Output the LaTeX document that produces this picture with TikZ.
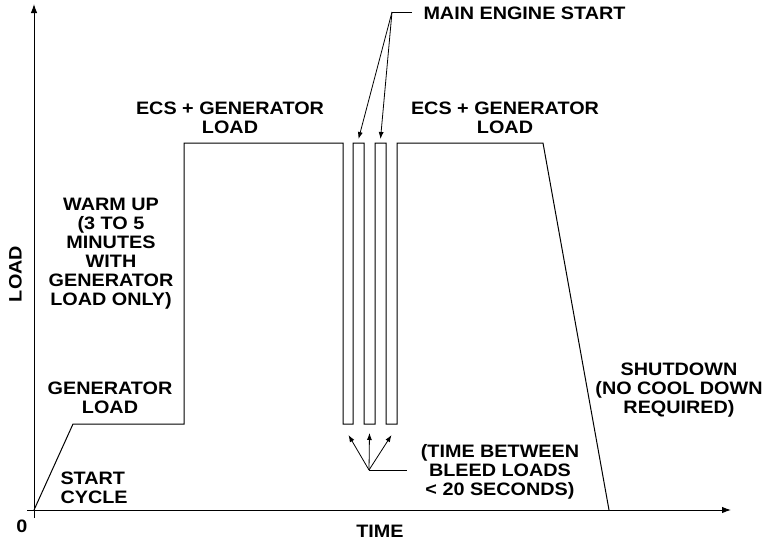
\documentclass[tikz,border=0pt]{standalone}
\usepackage{fontspec}
\setmainfont{Liberation Sans}[FakeStretch=1.1]
\usetikzlibrary{arrows.meta}

\begin{document}
\begin{tikzpicture}[x=1pt,y=-1pt,line width=1pt,
  lbl/.style={font=\bfseries\fontsize{18}{19}\selectfont,align=center,inner sep=0pt,anchor=base},
  lead/.style={line width=0.8pt,-{Latex[length=7pt,width=5pt]}},
  axis/.style={line width=1pt,-{Latex[length=9pt,width=6.5pt]}}]
\useasboundingbox (0,0) rectangle (765,542);
% axes
\coordinate (ybot) at (34,518);
\coordinate (ytop) at (34,4);
\coordinate (xleft) at (27,510);
\coordinate (xright) at (731,510);
\draw[axis] (ybot) -- (ytop);
\draw[axis] (xleft) -- (xright);
\node[lbl] (zero) at (22,532) {0};
\node[lbl] (time) at (380,537) {TIME};
\node[lbl,anchor=center,rotate=90] (load) at (15.5,274) {LOAD};
% load profile
\draw (34,510) -- (73,424) -- (184,424) -- (184,143) -- (343,143)
  -- (343,424) -- (353,424) -- (353,143) -- (364,143) -- (364,424)
  -- (375,424) -- (375,143) -- (386,143) -- (386,424) -- (397,424)
  -- (397,143) -- (543,143) -- (609,510);
\coordinate (top1) at (358.5,139);
\coordinate (top2) at (380.5,139);
\coordinate (gap1) at (348.5,435);
\coordinate (gap2) at (369.5,433);
\coordinate (gap3) at (391.5,435);
% labels (base = last line)
\node[lbl] (ecsL) at (230,133) {ECS + GENERATOR\\LOAD};
\node[lbl] (ecsR) at (505,133) {ECS + GENERATOR\\LOAD};
\node[lbl] (warm) at (111,305) {WARM UP\\(3 TO 5\\MINUTES\\WITH\\GENERATOR\\LOAD ONLY)};
\node[lbl] (gen) at (110,413) {GENERATOR\\LOAD};
\node[lbl,anchor=base west,align=left] (start) at (60,503) {START\\CYCLE};
\node[lbl] (shut) at (679,413) {SHUTDOWN\\(NO COOL DOWN\\REQUIRED)};
\node[lbl,anchor=base west] (mes) at (423,19) {MAIN ENGINE START};
\node[lbl] (bleed) at (500,495) {(TIME BETWEEN\\BLEED LOADS\\< 20 SECONDS)};
% leaders
\coordinate (mesj) at (392,12);
\draw[line width=0.8pt] (mes.west |- mesj) ++(-11,0) -- (mesj);
\draw[lead] (mesj) -- (top1);
\draw[lead] (mesj) -- (top2);
\coordinate (bleedj) at (369,470);
\draw[line width=0.8pt] (bleedj) -- (407,470);
\draw[lead] (bleedj) -- (gap1);
\draw[lead] (bleedj) -- (gap2);
\draw[lead] (bleedj) -- (gap3);
\end{tikzpicture}
\end{document}
